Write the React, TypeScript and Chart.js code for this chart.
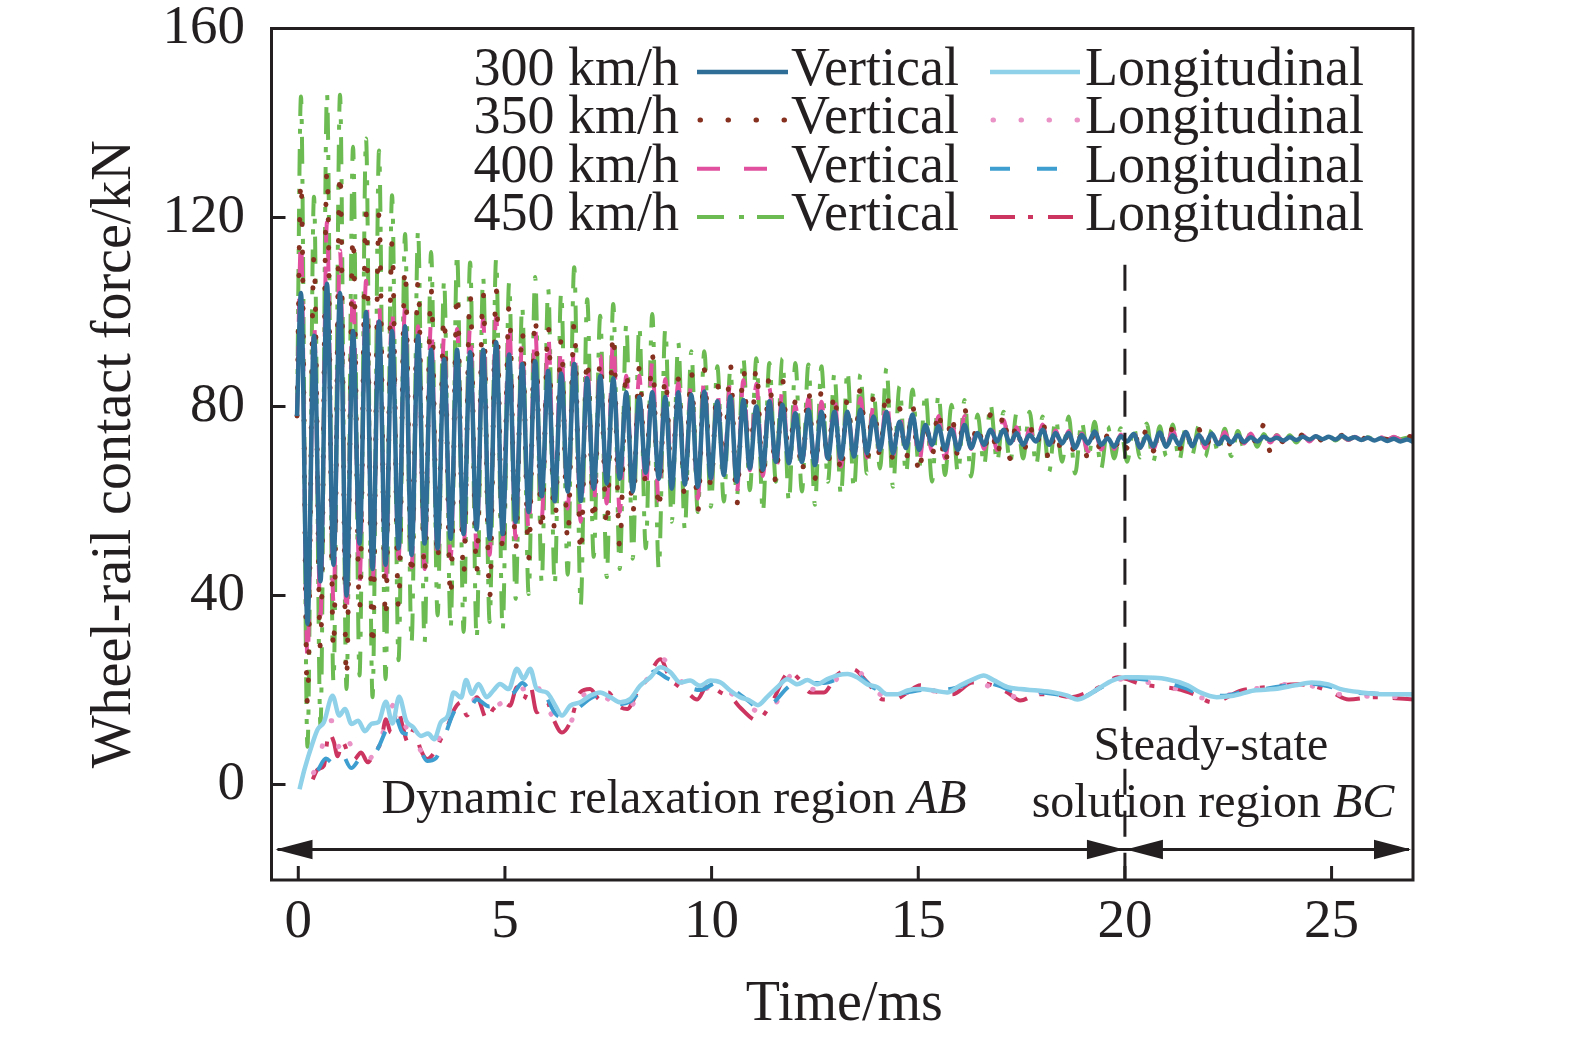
import React, { useEffect, useRef } from 'react';
import { Chart, registerables } from 'chart.js';

Chart.register(...registerables);

const FONT = "'Liberation Serif', 'Times New Roman', Times, serif";
const INK = '#231f20';

// ---- axes ----
const X_TICKS = [0, 5, 10, 15, 20, 25];
const Y_TICKS = [0, 40, 80, 120, 160];
const X_MIN = -0.648;
const X_MAX = 26.97;
const Y_MIN = -20.2;
const Y_MAX = 160;

// ---- legend ----
const SPEEDS = ['300 km/h', '350 km/h', '400 km/h', '450 km/h'];
const KIND_V = 'Vertical';
const KIND_L = 'Longitudinal';

// ---- vertical force: initial value, then peak, trough, peak, ... every half period ----
const START_T = -0.03;
const PEAK1_T = 0.065;
const HALF_PERIOD_MS = 0.1574;
const V_INITIAL = [78, 78, 78, 78];

const V300_PEAKS = [
  104, 95, 106, 104, 96, 100, 98, 96, 97, 95, 92, 90, 92, 91.5, 92, 93.6, 91, 89, 89.6, 87.5,
  87, 89, 86, 86.5, 86, 83, 82, 83, 82, 83,
  82.5, 83.2, 81.1, 82.1, 81.4, 80.0, 81.1, 80.4, 78.6, 79.3, 78.9, 78.9, 78.9, 79.3, 77.9, 78.9,
  76.8, 78.3, 76.1, 75.8, 75.1, 76.1, 74.4, 75.1, 75.1, 74.4, 74.0, 75.1, 74.4, 74.4, 74.0, 74.7, 73.3, 73.7,
  74.2, 73.8, 74.5, 73.9, 74.6, 74.0, 74.3, 73.6, 73.9, 73.5, 73.6, 73.4, 73.5, 73.6, 73.7, 73.6,
  73.8, 73.5, 73.4, 73.3, 73.2, 73.0,
];
const V300_TROUGHS = [
  34, 43, 46.5, 40, 51, 45.6, 46.5, 50, 48.6, 51, 50, 52, 53, 54, 52, 53, 55.6, 57.7, 61, 60,
  62, 60, 62.6, 63.7, 64.7, 62, 66, 64.7, 62.6, 63.5,
  63.0, 64.8, 65.5, 64.1, 66.9, 66.6, 68.3, 68.0, 68.3, 67.6, 69.0, 69.0, 69.4, 70.1, 70.8, 70.1,
  71.2, 70.8, 71.9, 70.8, 70.8, 71.2, 71.9, 72.6, 72.2, 71.9, 72.6, 71.9, 72.2, 71.2, 72.2, 71.9, 71.5, 72.6,
  71.3, 71.6, 71.5, 71.9, 71.6, 72.1, 72.0, 72.4, 72.5, 72.6, 72.9, 72.8, 72.9, 73.0, 73.1, 73.0,
  73.1, 72.9, 72.8, 72.7, 72.6, 72.5,
];

const V350_PEAKS = [
  127.9, 111.7, 130, 129.7, 116.2, 120.8, 120.8, 114.8, 109.5, 106.6, 104.9, 99.2, 104.2, 103.8, 104.2,
  104.9, 101.3, 96.4, 99.2, 97.1, 94.2, 97.8, 90.4, 90, 95.7, 87.9, 88.2, 91.1, 86.5, 85.8,
  87.5, 87.8, 84.9, 88.9, 88.1, 88.5, 86.8, 85.8, 81.1, 83.6, 83.2, 83.2, 81.8, 83.9, 81.8, 83.6,
  79.6, 80.4, 77.2, 79.6, 78.6, 79.6, 76.8, 78.3, 78.9, 76.8, 76.1, 77.2, 75.1, 75.1, 74.4, 75.4, 74, 74.4,
  74.8, 75.3, 74.6, 75.5, 74.9, 75.2, 74.5, 75.0, 74.3, 74.6, 76.2, 74.0, 73.9, 74.1, 73.8, 74.0,
  73.9, 73.8, 73.9, 73.7, 73.8, 73.9,
];
const V350_TROUGHS = [
  17, 28.7, 28.4, 22.3, 37, 28.7, 34.8, 37.2, 43.6, 44.3, 47.1, 39.3, 43.9, 44.6, 39.3,
  49.2, 49.6, 47.8, 53.1, 53.5, 51.4, 48.6, 55.2, 54.1, 50, 57.1, 63.5, 57.7, 63.7, 60.5,
  57.7, 63, 66.2, 59.2, 66.2, 64.1, 63.7, 68.3, 65.5, 64.7, 67.6, 65.5, 68.3, 68.3, 69.4, 68.7,
  68.7, 65.2, 69.4, 67.3, 69.4, 70.8, 70.1, 69, 69, 69.4, 71.2, 68.3, 69.8, 69.4, 68.7, 69.8, 70.5, 71.2,
  71.0, 70.6, 71.3, 70.8, 71.5, 71.0, 71.8, 71.4, 72.0, 71.6, 70.5, 72.5, 72.6, 72.4, 72.8, 72.7,
  72.8, 72.9, 72.8, 73.0, 72.9, 73.0,
];

const V400_PEAKS = [
  115, 98, 119, 113, 105, 106.6, 102, 101, 101, 97, 98, 95, 96.4, 97, 98.5, 99, 98, 93.6, 96.4, 95,
  92.8, 92.8, 89.4, 90.7, 94.2, 86.5, 86.5, 89.4, 85.8, 85,
  85.0, 86.2, 83.0, 85.4, 85.6, 84.8, 83.9, 83.5, 80.2, 81.7, 81.0, 81.5, 80.2, 81.8, 80.1, 81.5,
  78.3, 79.5, 76.9, 78.0, 77.0, 78.0, 75.8, 76.9, 77.2, 75.6, 75.2, 76.2, 74.9, 74.8, 74.3, 75.1, 73.8, 74.1,
  74.5, 75.0, 74.4, 75.1, 74.6, 74.9, 74.3, 74.6, 74.1, 74.3, 74.0, 73.9, 73.8, 73.9, 73.7, 73.8,
  73.7, 73.6, 73.7, 73.5, 73.6, 76.0,
];
const V400_TROUGHS = [
  26.5, 35.8, 38.6, 35.8, 42.9, 42.2, 42.2, 47.8, 46, 45.6, 47.1, 47.8, 50, 50, 48.6, 51.4, 52, 53.5,
  56.3, 59.9, 58.4, 55.6, 59.2, 59.5, 57.7, 61.3, 62, 59.9, 64.7, 63.5,
  60.5, 63.8, 65.8, 61.8, 66.5, 65.3, 65.9, 68.1, 66.8, 66.2, 68.3, 67.3, 68.8, 69.2, 70.0, 69.4,
  70.0, 68.0, 70.6, 69.0, 70.1, 71.0, 71.0, 70.8, 70.6, 70.6, 71.9, 70.1, 71.0, 70.3, 70.5, 70.9, 71.0, 71.9,
  71.2, 70.9, 71.4, 71.0, 71.6, 71.2, 71.9, 71.6, 72.2, 72.0, 72.4, 72.6, 72.7, 72.6, 72.9, 72.8,
  72.9, 72.9, 73.0, 73.0, 73.0, 72.8,
];

const V450_PEAKS = [
  145.6, 124.4, 146.2, 146, 135, 136.7, 134.2, 124.7, 116.5, 117.2, 112.7, 106.6, 112.3, 110.5, 107.4,
  111.2, 106.3, 101.3, 107.4, 104.9, 104.2, 109.5, 102.7, 99.2, 101.7, 97.4, 97.1, 99.6, 96.4, 93.5,
  91.7, 91.7, 88.5, 87.8, 90.2, 90.2, 89.2, 90.2, 89.2, 88.9, 88.5, 87, 87.5, 86.8, 83.2, 88.1,
  84.3, 83.6, 82.8, 82.5, 80.4, 81.4, 78.3, 80.4, 78.9, 78.6, 78.9, 77.9, 77.5, 77.9, 76.8, 76.8, 75.8, 75.4,
  75.6, 76.4, 75.8, 76.2, 75.5, 75.9, 75.1, 75.3, 74.8, 74.5, 74.2, 74.0, 73.9, 73.8, 73.7, 73.8,
  73.6, 73.7, 73.5, 73.6, 73.5, 73.4,
];
const V450_TROUGHS = [
  8, 12.5, 21.6, 20.2, 23.1, 18.5, 22.3, 26.3, 30.1, 30.1, 35.8, 32.9, 32.3, 30.8, 34.4,
  32.6, 39.3, 40.3, 42.9, 42.2, 44.4, 38, 48.2, 43.9, 45.6, 47.8, 50, 45.6, 55.6, 54.1,
  57.7, 58.8, 59.9, 60.9, 62.3, 57.7, 64.1, 59.9, 62, 59.2, 64.1, 61.3, 62.6, 65.8, 66.9, 63,
  65.8, 66.9, 64.1, 65.5, 65.8, 65.2, 67.6, 68.3, 68, 69, 67.6, 66.2, 68.3, 65.8, 69, 66.9, 69, 68.3,
  69.2, 68.3, 69.5, 68.6, 69.8, 69.4, 70.2, 69.5, 71.0, 71.5, 72.0, 72.3, 72.4, 72.6, 72.7, 72.8,
  72.9, 72.9, 73.0, 73.0, 73.1, 73.1,
];

// ---- longitudinal force ----
const L300_T = [
  0.03, 0.15, 0.35, 0.47, 0.62, 0.83, 0.99, 1.13, 1.29, 1.45, 1.61, 1.78, 1.94, 2.12, 2.28, 2.44, 2.61, 2.77,
  2.97, 3.14, 3.29, 3.45, 3.62, 3.76, 3.94, 4.06, 4.2, 4.36, 4.56, 4.72, 4.88, 5.09, 5.29, 5.45, 5.61,
  5.77, 6.01, 6.22, 6.38, 6.58, 6.82, 7.06, 7.3, 7.55, 7.79, 8.03, 8.27, 8.52, 8.76, 9.0, 9.24, 9.48,
  9.72, 9.97, 10.22, 10.45, 10.69, 10.92, 11.12, 11.34, 11.59, 11.83, 12.07, 12.32, 12.55, 12.8, 13.04,
  13.29, 13.52, 13.77, 14.01, 14.25, 14.5, 14.74, 15.05, 15.37, 15.7, 16.02, 16.34, 16.58, 16.82, 17.16,
  17.47, 17.89, 18.27, 18.61, 18.85, 19.09, 19.41, 19.72, 20.02, 20.32, 21.02, 21.52, 21.82, 22.22, 22.62,
  23.12, 23.62, 24.12, 24.52, 24.92, 25.22, 25.72, 26.32, 26.97,
];
const L300_V = [
  -1, 3.2, 8.9, 11.7, 13.2, 18.8, 14.6, 16, 12.8, 13.5, 11.3, 12.9, 13.2, 17.5, 12.9, 18.6, 13.5, 12.2,
  10.3, 10.8, 9.6, 13.2, 14.6, 19.5, 18.4, 22.1, 19.2, 21.3, 18.5, 19.9, 21.3, 20.2, 24.5, 22.4, 24.5,
  20.2, 19.5, 16.7, 14.6, 16.7, 17.4, 18.8, 19.5, 18.5, 17.4, 18.1, 20.9, 22.7, 24.8, 23.8, 21.6, 22,
  20.9, 22, 21.6, 19.9, 18.5, 17.8, 16.8, 18.5, 20.6, 22.3, 21.2, 22.1, 21.2, 22.3, 23.1,
  23.4, 22.7, 21.2, 20.6, 19.1, 19.1, 19.9, 20.2, 19.9, 19.5, 21, 22.3, 23.1, 22.1, 20.6,
  20.2, 19.9, 19.5, 18.8, 18.0, 18.8, 20.6, 22.1, 22.7, 22.7, 22.3, 21.0, 19.5, 18.5, 18.8,
  19.9, 20.2, 21, 21.6, 21.2, 20.2, 19.5, 19.1, 19.1,
];

const L350_T = [
  0.37, 0.52, 0.67, 0.82, 0.97, 1.12, 1.32, 1.52, 1.72, 1.92, 2.12, 2.32, 2.47, 2.62, 2.82, 3.02, 3.22, 3.42,
  3.62, 3.82, 4.02, 4.22, 4.42, 4.72, 5.02, 5.32, 5.52, 5.72, 5.92, 6.22, 6.52, 6.82, 7.12, 7.42, 7.72,
  8.02, 8.32, 8.62, 8.82, 9.12, 9.42, 9.72, 10.12, 10.52, 10.92, 11.22, 11.62, 11.92, 12.32, 12.72, 13.12,
  13.52, 13.92, 14.32, 14.72, 15.12, 15.52, 15.92, 16.42, 16.92, 17.42, 17.92, 18.42, 18.92, 19.42, 19.92,
  20.42, 20.92, 21.42, 21.92, 22.42, 22.92, 23.42, 23.92, 24.42, 24.92, 25.42, 25.92, 26.42, 26.97,
];
const L350_V = [
  2.5, 5.5, 12, 13.5, 8, 11, 7.5, 7, 5.5, 8.5, 12.5, 17, 14.5, 12, 10.5, 6.5, 7.5, 10, 13, 16.5,
  17, 18, 17, 16.5, 18, 20, 20.5, 22.5, 17.5, 14, 12.5, 18, 20, 18.5, 17, 16.5, 21, 24, 26.5, 23.5,
  20.5, 20, 21, 19, 16.5, 15, 18, 23, 20.5, 20, 23, 24, 20, 18.5, 19.5, 20.5, 19.5,
  20.5, 21.5, 20, 18.5, 19.5, 18.8, 18.5, 20.5, 22.3, 21.8, 21, 19.8, 18.3, 18.8, 19.9, 20.6, 21.2,
  21, 20, 18.6, 18.7, 18.6, 18.5,
];

const L400_T = [
  0.47, 0.67, 0.84, 1.02, 1.28, 1.52, 1.72, 1.92, 2.12, 2.32, 2.52, 2.72, 2.92, 3.12, 3.32, 3.52, 3.72, 3.92,
  4.12, 4.32, 4.62, 4.92, 5.22, 5.42, 5.62, 5.92, 6.22, 6.52, 6.82, 7.12, 7.42, 7.72, 8.02, 8.32, 8.62,
  8.92, 9.32, 9.72, 10.12, 10.52, 10.92, 11.22, 11.52, 11.92, 12.32, 12.72, 13.12, 13.52, 13.92, 14.32,
  14.72, 15.12, 15.52, 15.92, 16.42, 16.92, 17.42, 17.92, 18.42, 18.92, 19.42, 19.92, 20.42, 20.92, 21.42,
  21.92, 22.42, 22.92, 23.42, 23.92, 24.42, 24.92, 25.42, 25.92, 26.42, 26.97,
];
const L400_V = [
  3, 5.5, 4.5, 7, 3.5, 5.5, 5, 7.5, 11.5, 15, 11, 10.5, 8, 5, 5.5, 9.5, 14.5, 17, 16, 18,
  16.5, 18.5, 19.5, 21.5, 20, 19.5, 15, 14, 16.5, 18.5, 19, 17, 17.5, 20.5, 24, 22.5, 21, 20, 21.5, 20,
  17.5, 15.5, 17.5, 21, 21.5, 21.5, 22.5, 23, 20.5, 19, 19.5, 20, 20, 20.5, 22, 21, 19.5,
  19.5, 19, 18.5, 20.5, 22.5, 22.3, 21.8, 20.5, 19.0, 18.8, 19.8, 20.3, 21, 21.4, 20.8, 19.6, 19.3,
  19.2, 19.1,
];

const L450_T = [
  0.35, 0.47, 0.62, 0.74, 0.86, 0.95, 1.07, 1.2, 1.35, 1.52, 1.68, 1.84, 2.0, 2.12, 2.24, 2.41, 2.52, 2.65,
  2.8, 2.96, 3.12, 3.29, 3.45, 3.62, 3.78, 3.94, 4.08, 4.32, 4.56, 4.72, 4.96, 5.12, 5.29, 5.45, 5.61, 5.77,
  6.02, 6.17, 6.38, 6.58, 6.82, 7.06, 7.3, 7.5, 7.72, 7.96, 8.2, 8.44, 8.76, 9.0, 9.17, 9.41, 9.65,
  9.9, 10.22, 10.52, 10.69, 11.1, 11.42, 11.9, 12.12, 12.39, 12.72, 13.02, 13.42, 13.77, 14.15, 14.42, 14.74,
  15.05, 15.37, 15.82, 16.32, 16.72, 17.16, 17.47, 17.89, 18.27, 18.68, 19.09, 19.48, 19.82, 20.42, 21.27,
  21.67, 22.12, 22.82, 23.42, 24.22, 24.92, 25.42, 26.02, 26.97,
];
const L450_V = [
  1.1, 3.2, 4, 11, 9, 6, 9, 6.8, 5.3, 6.8, 4.7, 6.8, 9, 13.8, 11, 16, 12.5, 9,
  11.7, 7.4, 5.4, 6.8, 9.6, 12.5, 16, 17.4, 14.6, 18.5, 13.9, 16, 17.4, 16.7, 20.6, 18, 21, 15.3,
  17.4, 13.9, 11, 13.2, 19.5, 20.2, 18, 19.5, 16.8, 16, 19.5, 22.3, 26.5, 22.3, 21, 19.5, 18,
  21, 19.5, 18, 16.3, 13.6, 16.8, 23.8, 22.3, 19.5, 19.5, 23.1, 24.4, 21.6, 18, 18, 19.5,
  21, 19.9, 19.1, 21.6, 21.2, 19.5, 17.8, 19.1, 19.1, 18.5, 19.5, 21, 22.7, 21.2, 20.2,
  19.1, 17.4, 19.9, 20.6, 21.2, 19.9, 18, 18.5, 18,
];

// ---- annotations (data coordinates) ----
const BOUNDARY_T = 20;
const BOUNDARY_TOP = 110;
const ARROW_LEVEL = -13.76;
const REGION_AB = { t: 9.09, v: -6.0, parts: [['Dynamic relaxation region ', false], ['AB', true]] };
const REGION_BC_1 = { t: 22.08, v: 5.2, parts: [['Steady-state', false]] };
const REGION_BC_2 = { t: 22.13, v: -6.8, parts: [['solution region ', false], ['BC', true]] };

// ---- styles ----
const COLORS = {
  v300: '#2F6E96', v350: '#86301F', v400: '#E0509F', v450: '#6CBB52',
  l300: '#8ED1E8', l350: '#E993C7', l400: '#3E9ECF', l450: '#CC3560',
};
const DASH_DOT = [27, 15, 5, 13];
const DOTS = [0.5, 27.5];
const DASH = [23, 24];
const DASH_L = [20, 27];
const DASH_DOT_L = [25, 13, 5, 15];

function vertSeries(start: number, peaks: number[], troughs: number[]) {
  const out = [{ x: START_T, y: start }];
  for (let i = 0; i < peaks.length; i++) {
    out.push({ x: PEAK1_T + 2 * i * HALF_PERIOD_MS, y: peaks[i] });
    out.push({ x: PEAK1_T + (2 * i + 1) * HALF_PERIOD_MS, y: troughs[i] });
  }
  return out;
}
function pairs(t: number[], v: number[]) {
  return t.map((x, i) => ({ x, y: v[i] }));
}

function drawParts(ctx: any, parts: any[], cx: number, baseline: number, size: number) {
  const widths = parts.map(([s, it]) => {
    ctx.font = `${it ? 'italic ' : ''}${size}px ${FONT}`;
    return ctx.measureText(s).width;
  });
  let x = cx - widths.reduce((a: number, b: number) => a + b, 0) / 2;
  ctx.textAlign = 'left';
  ctx.textBaseline = 'alphabetic';
  parts.forEach(([s, it], i) => {
    ctx.font = `${it ? 'italic ' : ''}${size}px ${FONT}`;
    ctx.fillText(s, x, baseline);
    x += widths[i];
  });
}

function head(ctx: any, tipX: number, y: number, dir: number) {
  ctx.beginPath();
  ctx.moveTo(tipX, y);
  ctx.lineTo(tipX - dir * 37, y - 9.7);
  ctx.lineTo(tipX - dir * 37, y + 9.7);
  ctx.closePath();
  ctx.fill();
}

function sample(ctx: any, x1: number, x2: number, y: number, color: string, dash: number[], w: number, cap: string) {
  ctx.save();
  ctx.strokeStyle = color;
  ctx.lineWidth = w;
  ctx.lineCap = cap;
  ctx.setLineDash(dash);
  ctx.beginPath();
  ctx.moveTo(x1, y);
  ctx.lineTo(x2, y);
  ctx.stroke();
  ctx.restore();
}

const overlayPlugin = {
  id: 'overlay',
  afterDatasetsDraw(chart: any) {
    const { ctx, chartArea: a, scales } = chart;
    const xs = scales.x;
    const ys = scales.y;
    ctx.save();
    ctx.fillStyle = INK;
    ctx.strokeStyle = INK;

    // region texts
    [REGION_AB, REGION_BC_1, REGION_BC_2].forEach((r) =>
      drawParts(ctx, r.parts, xs.getPixelForValue(r.t), ys.getPixelForValue(r.v), 48)
    );

    // frame + inward ticks
    ctx.setLineDash([]);
    ctx.lineWidth = 3;
    ctx.strokeRect(a.left, a.top, a.right - a.left, a.bottom - a.top);
    ctx.beginPath();
    X_TICKS.forEach((v) => {
      const p = xs.getPixelForValue(v);
      ctx.moveTo(p, a.bottom);
      ctx.lineTo(p, a.bottom - 14);
    });
    Y_TICKS.forEach((v) => {
      if (v >= Y_MAX) return;
      const p = ys.getPixelForValue(v);
      ctx.moveTo(a.left, p);
      ctx.lineTo(a.left + 14, p);
    });
    ctx.stroke();

    // boundary dashed line
    const bx = xs.getPixelForValue(BOUNDARY_T);
    ctx.setLineDash([26, 16]);
    ctx.beginPath();
    ctx.moveTo(bx, ys.getPixelForValue(BOUNDARY_TOP));
    ctx.lineTo(bx, a.bottom);
    ctx.stroke();
    ctx.setLineDash([]);

    // double arrows
    const ay = ys.getPixelForValue(ARROW_LEVEL);
    ctx.beginPath();
    ctx.moveTo(a.left + 6, ay);
    ctx.lineTo(a.right - 4, ay);
    ctx.stroke();
    head(ctx, a.left + 4, ay, -1);
    head(ctx, bx - 1, ay, 1);
    head(ctx, bx + 1, ay, -1);
    head(ctx, a.right - 2, ay, 1);

    // axis titles
    ctx.font = `56px ${FONT}`;
    ctx.textAlign = 'center';
    ctx.textBaseline = 'alphabetic';
    ctx.fillText('Time/ms', (a.left + a.right) / 2 + 2, 1020);
    ctx.save();
    ctx.translate(130, (a.top + a.bottom) / 2);
    ctx.rotate(-Math.PI / 2);
    ctx.fillText('Wheel-rail contact force/kN', 0, 0);
    ctx.restore();

    // legend
    const baselines = [85, 133, 181.7, 230];
    const vStyles = [
      [COLORS.v300, [], 4.5, 'butt'],
      [COLORS.v350, DOTS, 5, 'round'],
      [COLORS.v400, DASH, 4, 'butt'],
      [COLORS.v450, DASH_DOT, 4, 'butt'],
    ];
    const lStyles = [
      [COLORS.l300, [], 4.5, 'butt'],
      [COLORS.l350, DOTS, 5, 'round'],
      [COLORS.l400, DASH_L, 4, 'butt'],
      [COLORS.l450, DASH_DOT_L, 4, 'butt'],
    ];
    ctx.font = `54px ${FONT}`;
    baselines.forEach((b, i) => {
      ctx.fillStyle = INK;
      ctx.textAlign = 'right';
      ctx.fillText(SPEEDS[i], 679, b);
      ctx.textAlign = 'left';
      ctx.fillText(KIND_V, 791, b);
      ctx.fillText(KIND_L, 1085, b);
      const [vc, vd, vw, vcap] = vStyles[i] as any;
      const [lc, ld, lw, lcap] = lStyles[i] as any;
      sample(ctx, i === 1 ? 700 : 697, 788, b - 13, vc, vd, vw, vcap);
      sample(ctx, i === 1 ? 993 : 990, 1080, b - 13, lc, ld, lw, lcap);
    });
    ctx.restore();
  },
};

export default function App() {
  const ref = useRef<HTMLCanvasElement | null>(null);
  useEffect(() => {
    if (!ref.current) return;
    const lineDs = (label: string, data: any[], color: string, width: number, dash: number[], cap: string) => ({
      label,
      data,
      borderColor: color,
      backgroundColor: color,
      borderWidth: width,
      borderDash: dash,
      borderCapStyle: cap,
      borderJoinStyle: 'round',
      cubicInterpolationMode: 'monotone',
      pointRadius: 0,
      fill: false,
    });
    const chart = new Chart(ref.current, {
      type: 'line',
      data: {
        datasets: [
          lineDs(`${SPEEDS[0]} ${KIND_V}`, vertSeries(V_INITIAL[0], V300_PEAKS, V300_TROUGHS), COLORS.v300, 4.5, [], 'butt'),
          lineDs(`${SPEEDS[0]} ${KIND_L}`, pairs(L300_T, L300_V), COLORS.l300, 4.5, [], 'butt'),
          lineDs(`${SPEEDS[2]} ${KIND_L}`, pairs(L400_T, L400_V), COLORS.l400, 4, DASH_L, 'butt'),
          lineDs(`${SPEEDS[1]} ${KIND_L}`, pairs(L350_T, L350_V), COLORS.l350, 5, DOTS, 'round'),
          lineDs(`${SPEEDS[3]} ${KIND_L}`, pairs(L450_T, L450_V), COLORS.l450, 4, DASH_DOT_L, 'butt'),
          lineDs(`${SPEEDS[1]} ${KIND_V}`, vertSeries(V_INITIAL[1], V350_PEAKS, V350_TROUGHS), COLORS.v350, 5, DOTS, 'round'),
          lineDs(`${SPEEDS[2]} ${KIND_V}`, vertSeries(V_INITIAL[2], V400_PEAKS, V400_TROUGHS), COLORS.v400, 4, DASH, 'butt'),
          lineDs(`${SPEEDS[3]} ${KIND_V}`, vertSeries(V_INITIAL[3], V450_PEAKS, V450_TROUGHS), COLORS.v450, 4, DASH_DOT, 'butt'),
        ] as any,
      },
      options: {
        responsive: false,
        animation: false,
        devicePixelRatio: 1,
        parsing: false,
        layout: { padding: { left: 0, right: 162, top: 28.5, bottom: 0 } },
        plugins: { legend: { display: false }, tooltip: { enabled: false } },
        scales: {
          x: {
            type: 'linear',
            min: X_MIN,
            max: X_MAX,
            grid: { display: false, drawTicks: false },
            border: { display: false },
            ticks: { color: INK, font: { family: FONT, size: 55 }, padding: 9.5, maxRotation: 0, autoSkip: false },
            afterBuildTicks: (s: any) => {
              s.ticks = X_TICKS.map((value) => ({ value }));
            },
            afterFit: (s: any) => {
              s.height = 158;
              s.paddingLeft = 0;
              s.paddingRight = 0;
            },
          },
          y: {
            type: 'linear',
            min: Y_MIN,
            max: Y_MAX,
            grid: { display: false, drawTicks: false },
            border: { display: false },
            ticks: { color: INK, font: { family: FONT, size: 55 }, padding: 26.5, autoSkip: false },
            afterBuildTicks: (s: any) => {
              s.ticks = Y_TICKS.map((value) => ({ value }));
            },
            afterFit: (s: any) => {
              s.width = 271.5;
              s.paddingTop = 0;
              s.paddingBottom = 0;
            },
          },
        },
      } as any,
      plugins: [overlayPlugin],
    });
    return () => chart.destroy();
  }, []);
  return (
    <div style={{ position: 'absolute', left: 0, top: 0, width: 1575, height: 1038, background: '#fff' }}>
      <canvas ref={ref} width={1575} height={1038} style={{ width: 1575, height: 1038, display: 'block' }} />
    </div>
  );
}
